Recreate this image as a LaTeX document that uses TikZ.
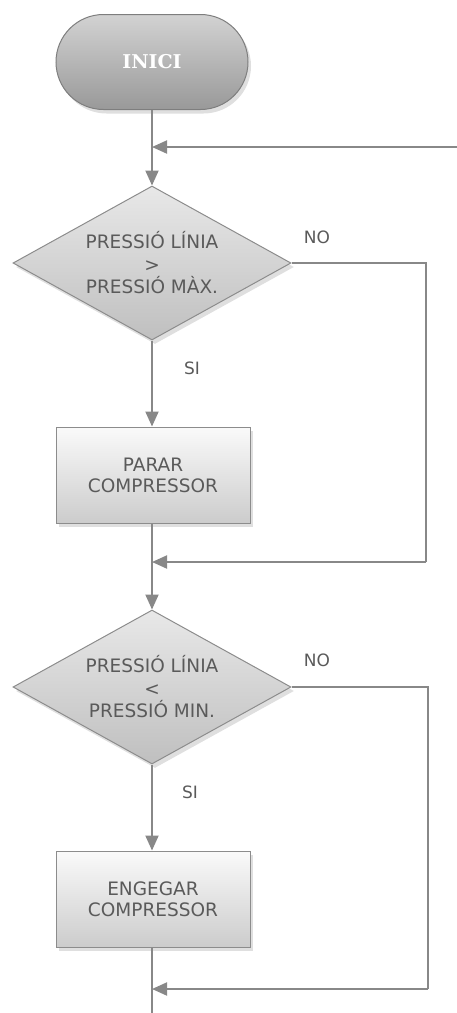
\documentclass[tikz,border=0pt]{standalone}
\usepackage{fontspec}
\newfontfamily\labelfont{DejaVu Sans}
\newfontfamily\titlefont{DejaVu Serif}
\usetikzlibrary{shapes.geometric,shapes.misc,arrows.meta,shadows}

\definecolor{linegray}{HTML}{888888}
\definecolor{textgray}{HTML}{5A5A5A}
\definecolor{edgegray}{HTML}{8C8C8C}

\tikzset{
  flow/.style={draw=linegray, line width=2pt},
  flowarrow/.style={flow, -{Triangle[width=13pt,length=15pt]}},
  shade/.style={drop shadow={opacity=0.25, shadow xshift=3pt, shadow yshift=-4pt}},
  terminal/.style={rounded rectangle, draw=edgegray!90!black, line width=1pt,
    minimum width=192pt, minimum height=95pt, inner sep=0pt,
    top color=gray!35, bottom color=gray!80, shade,
    font=\titlefont\bfseries\fontsize{19}{21}\selectfont, text=white},
  decision/.style={diamond, shape aspect=1.8, draw=edgegray, line width=1pt,
    minimum width=278pt, minimum height=154pt, inner sep=0pt,
    top color=gray!18, bottom color=gray!50, shade,
    align=center, font=\labelfont\fontsize{18.5}{22.5}\selectfont, text=textgray},
  process/.style={rectangle, draw=edgegray, line width=1pt,
    minimum width=194pt, minimum height=96pt, inner sep=0pt,
    top color=gray!4, bottom color=gray!40, shade,
    align=center, font=\labelfont\fontsize{18.5}{21}\selectfont, text=textgray},
  tag/.style={font=\labelfont\fontsize{17}{19}\selectfont, text=textgray, inner sep=0pt},
}

\begin{document}
\begin{tikzpicture}[x=1pt, y=-1pt]
  \useasboundingbox (0,0) rectangle (457,1013);

  % blocks
  \node[terminal] (start) at (152,62) {INICI};
  \node[decision] (d1) at (152,263) {PRESSIÓ LÍNIA\\>\\PRESSIÓ MÀX.};
  \node[process]  (r1) at (153,475) {PARAR\\COMPRESSOR};
  \node[decision] (d2) at (152,687) {PRESSIÓ LÍNIA\\<\\PRESSIÓ MIN.};
  \node[process]  (r2) at (153,899) {ENGEGAR\\COMPRESSOR};

  % junction points and free ends
  \coordinate (m1) at (152,147);
  \coordinate (loopin) at (457,147);
  \coordinate (m2) at (152,562);
  \coordinate (c1) at (426,263);
  \coordinate (c1b) at (426,562);
  \coordinate (m3) at (152,989);
  \coordinate (c2) at (428,687);
  \coordinate (c2b) at (428,989);
  \coordinate (tail) at (152,1013);

  % main flow
  \draw[flowarrow] (start.south) -- (d1.north);
  \draw[flowarrow] (loopin) -- (m1);
  \draw[flowarrow] (d1.south) -- (d1.south |- r1.north);
  \draw[flowarrow] (r1.south -| d1.south) -- (d2.north);
  \draw[flowarrow] (d2.south) -- (d2.south |- r2.north);
  \draw[flow] (r2.south -| d2.south) -- (tail);

  % NO branches
  \draw[flow] (d1.east) -- (c1) -- (c1b);
  \draw[flowarrow] (c1b) -- (m2);
  \draw[flow] (d2.east) -- (c2) -- (c2b);
  \draw[flowarrow] (c2b) -- (m3);

  % branch labels
  \node[tag] (no1) at (317,237) {NO};
  \node[tag] (si1) at (192,368) {SI};
  \node[tag] (no2) at (317,660) {NO};
  \node[tag] (si2) at (190,792) {SI};
\end{tikzpicture}
\end{document}
